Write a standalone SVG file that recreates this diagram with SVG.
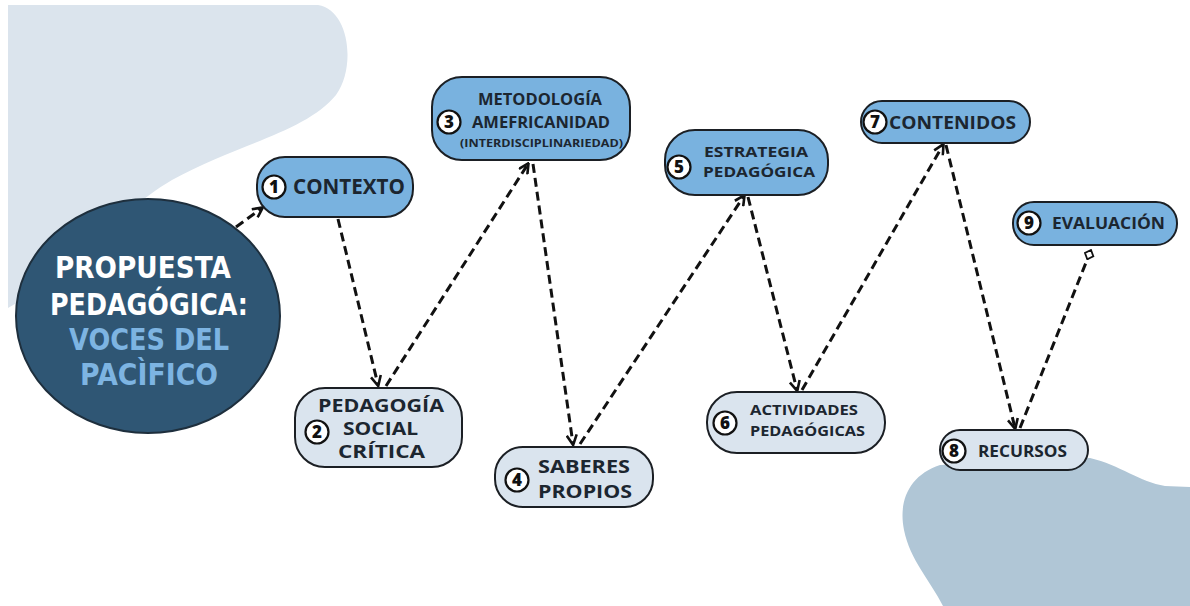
<svg xmlns="http://www.w3.org/2000/svg" width="1190" height="606" viewBox="0 0 1190 606">
<defs>
<style>
.box{stroke:#1b1f24;stroke-width:2}
.dark{fill:#79b2df}
.light{fill:#dae4ee}
.lbl{font-family:"Open Sans","DejaVu Sans",sans-serif;font-weight:700;fill:#1c2630}
.num{fill:#fff;stroke:#111;stroke-width:2.2}
.numt{font-family:"Open Sans","DejaVu Sans",sans-serif;font-weight:800;font-size:17px;fill:#111;text-anchor:middle}
.title{font-family:"DejaVu Sans",sans-serif;font-weight:700;font-size:31px}
.con{fill:none;stroke:#111;stroke-width:3;stroke-dasharray:9 5}
</style>
<marker id="arr" viewBox="0 0 12 12" refX="10" refY="6" markerWidth="12" markerHeight="12" markerUnits="userSpaceOnUse" orient="auto">
<path d="M1,1 L11,6 L1,11" fill="none" stroke="#111" stroke-width="2.6" stroke-linejoin="miter"/>
</marker>
<marker id="dia" viewBox="0 0 12 12" refX="11" refY="6" markerWidth="12" markerHeight="12" markerUnits="userSpaceOnUse" orient="auto">
<path d="M1,6 L6,1.5 L11,6 L6,10.5 Z" fill="#fff" stroke="#111" stroke-width="1.8"/>
</marker>
</defs>
<rect width="1190" height="606" fill="#fff"/>
<g id="background">
<path d="M8,5 H318 C350,10 356,68 336,95 C306,132 235,145 172,180 C120,210 60,280 8,308 Z" fill="#dbe4ed"/>
<path d="M943,606 C930,580 910,560 904,530 C898,500 910,475 940,465 L1090,458 C1120,465 1140,482 1165,486 L1190,487 V606 Z" fill="#b0c6d6"/>
</g>
<g id="connectors">
<path class="con" d="M236,227 L262,208" marker-end="url(#arr)"/>
<path class="con" d="M338,219 L378,385" marker-end="url(#arr)"/>
<path class="con" d="M386,386 L528,164" marker-end="url(#arr)"/>
<path class="con" d="M533,164 L573,444" marker-end="url(#arr)"/>
<path class="con" d="M580,444 L744,196" marker-end="url(#arr)"/>
<path class="con" d="M748,197 L797,390" marker-end="url(#arr)"/>
<path class="con" d="M802,390 L943,145" marker-end="url(#arr)"/>
<path class="con" d="M946,145 L1015,428" marker-end="url(#arr)"/>
<path class="con" d="M1020,428 L1091,250" marker-end="url(#dia)"/>
</g>
<g id="node-main">
<ellipse cx="148" cy="316" rx="132" ry="117" fill="#2f5674" stroke="#1e2f3d" stroke-width="2"/>
<text class="title" x="55" y="278" fill="#fff" textLength="176" lengthAdjust="spacingAndGlyphs">PROPUESTA</text>
<text class="title" x="50" y="315" fill="#fff" textLength="198" lengthAdjust="spacingAndGlyphs">PEDAGÓGICA:</text>
<text class="title" x="69" y="350" fill="#7db4e2" textLength="160" lengthAdjust="spacingAndGlyphs">VOCES DEL</text>
<text class="title" x="80" y="385" fill="#7db4e2" textLength="138" lengthAdjust="spacingAndGlyphs">PACÌFICO</text>
</g>
<g id="node-1">
<rect class="box dark" x="257" y="157" width="156" height="60" rx="28"/>
<circle class="num" cx="274" cy="187" r="11.5"/><text class="numt" x="274" y="193">1</text>
<text class="lbl" x="293" y="194" font-size="22" textLength="112" lengthAdjust="spacingAndGlyphs">CONTEXTO</text>
</g>
<g id="node-2">
<rect class="box light" x="295" y="388" width="167" height="79" rx="30"/>
<circle class="num" cx="317" cy="432" r="11.5"/><text class="numt" x="317" y="438">2</text>
<text class="lbl" x="318" y="412" font-size="17" textLength="126" lengthAdjust="spacingAndGlyphs">PEDAGOGÍA</text>
<text class="lbl" x="343" y="435" font-size="17" textLength="75" lengthAdjust="spacingAndGlyphs">SOCIAL</text>
<text class="lbl" x="338" y="458" font-size="17" textLength="87" lengthAdjust="spacingAndGlyphs">CRÍTICA</text>
</g>
<g id="node-3">
<rect class="box dark" x="432" y="77" width="198" height="83" rx="30"/>
<circle class="num" cx="449" cy="122" r="11.5"/><text class="numt" x="449" y="128">3</text>
<text class="lbl" x="478" y="105" font-size="16" textLength="124" lengthAdjust="spacingAndGlyphs">METODOLOGÍA</text>
<text class="lbl" x="472" y="128" font-size="16" textLength="138" lengthAdjust="spacingAndGlyphs">AMEFRICANIDAD</text>
<text class="lbl" x="460" y="147" font-size="11" textLength="163" lengthAdjust="spacingAndGlyphs">(INTERDISCIPLINARIEDAD)</text>
</g>
<g id="node-4">
<rect class="box light" x="495" y="447" width="158" height="60" rx="28"/>
<circle class="num" cx="517" cy="480" r="11.5"/><text class="numt" x="517" y="486">4</text>
<text class="lbl" x="538" y="473" font-size="18" textLength="92" lengthAdjust="spacingAndGlyphs">SABERES</text>
<text class="lbl" x="538" y="498" font-size="18" textLength="94" lengthAdjust="spacingAndGlyphs">PROPIOS</text>
</g>
<g id="node-5">
<rect class="box dark" x="665" y="130" width="163" height="65" rx="30"/>
<circle class="num" cx="679" cy="167" r="11.5"/><text class="numt" x="679" y="173">5</text>
<text class="lbl" x="704" y="157" font-size="14.5" textLength="104" lengthAdjust="spacingAndGlyphs">ESTRATEGIA</text>
<text class="lbl" x="703" y="177" font-size="14.5" textLength="112" lengthAdjust="spacingAndGlyphs">PEDAGÓGICA</text>
</g>
<g id="node-6">
<rect class="box light" x="707" y="392" width="178" height="61" rx="30"/>
<circle class="num" cx="725" cy="423" r="11.5"/><text class="numt" x="725" y="429">6</text>
<text class="lbl" x="750" y="415" font-size="15" textLength="108" lengthAdjust="spacingAndGlyphs">ACTIVIDADES</text>
<text class="lbl" x="750" y="436" font-size="15" textLength="115" lengthAdjust="spacingAndGlyphs">PEDAGÓGICAS</text>
</g>
<g id="node-7">
<rect class="box dark" x="861" y="101" width="169" height="42" rx="21"/>
<circle class="num" cx="875" cy="122" r="11.5"/><text class="numt" x="875" y="128">7</text>
<text class="lbl" x="889" y="129" font-size="17" textLength="127" lengthAdjust="spacingAndGlyphs">CONTENIDOS</text>
</g>
<g id="node-8">
<rect class="box light" x="940" y="430" width="148" height="40" rx="20"/>
<circle class="num" cx="954" cy="451" r="11.5"/><text class="numt" x="954" y="457">8</text>
<text class="lbl" x="978" y="457" font-size="16" textLength="89" lengthAdjust="spacingAndGlyphs">RECURSOS</text>
</g>
<g id="node-9">
<rect class="box dark" x="1013" y="202" width="164" height="43" rx="21"/>
<circle class="num" cx="1029" cy="223" r="11.5"/><text class="numt" x="1029" y="229">9</text>
<text class="lbl" x="1052" y="229" font-size="16" textLength="113" lengthAdjust="spacingAndGlyphs">EVALUACIÓN</text>
</g>
</svg>
